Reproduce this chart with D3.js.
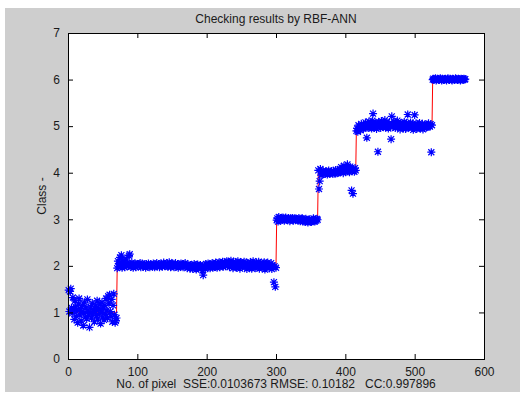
<!DOCTYPE html>
<html>
<head>
<meta charset="utf-8">
<script src="https://cdn.jsdelivr.net/npm/d3@7"></script>
<style>
  html, body { margin: 0; padding: 0; background: #fff; }
  svg { display: block; font-family: "Liberation Sans", Arial, sans-serif; }
  text { white-space: pre; }
</style>
</head>
<body>
<div id="chart"></div>
<script>
// true class of each segment and how many pixels belong to it
const classes = [1, 2, 3, 4, 5, 6];
const classCounts = [70, 230, 60, 55, 110, 48];

// RBF-ANN output per pixel, one array per class segment
const predClass1 = [
  1.48, 1.02, 1.45, 1.51, 1.10, 0.98, 1.32, 1.05, 0.85, 1.25,
  1.12, 0.92, 1.05, 0.78, 1.18, 1.30, 0.95, 1.08, 0.82, 1.02,
  1.15, 0.72, 0.98, 1.22, 0.90, 1.10, 0.86, 1.28, 1.05, 0.95,
  0.68, 1.00, 1.12, 0.88, 1.20, 0.97, 1.06, 0.80, 1.02, 1.14,
  0.93, 1.25, 0.86, 1.08, 0.98, 1.18, 0.76, 1.03, 1.22, 0.90,
  1.10, 0.84, 1.15, 0.96, 1.30, 1.05, 0.88, 1.35, 1.20, 1.38,
  1.02, 0.92, 1.28, 0.80, 1.15, 1.40, 0.95, 0.78, 0.82, 0.88
];
const predClass2 = [
  1.95, 2.10, 1.98, 2.05, 2.18, 2.02, 2.23, 1.96, 2.08, 2.00,
  2.12, 1.97, 2.04, 2.15, 1.99, 2.06, 2.01, 2.22, 2.25, 2.03,
  1.98, 2.07, 2.02, 1.96, 2.04, 2.00, 2.05, 1.97, 2.03, 2.01,
  1.99, 2.04, 2.00, 2.06, 1.97, 2.02, 2.05, 1.98, 2.01, 2.03,
  2.00, 1.96, 2.04, 2.02, 1.99, 2.05, 2.01, 1.97, 2.03, 2.00,
  2.02, 1.98, 2.05, 2.01, 1.97, 2.03, 2.00, 2.06, 1.99, 2.02,
  2.04, 1.97, 2.01, 2.05, 2.00, 1.98, 2.03, 2.07, 2.01, 1.99,
  2.04, 2.00, 2.06, 1.98, 2.02, 2.08, 2.01, 1.97, 2.04, 2.02,
  2.05, 2.00, 1.97, 2.03, 2.06, 1.99, 2.02, 2.04, 1.96, 2.01,
  2.03, 1.98, 2.05, 2.00, 2.02, 1.97, 2.04, 2.01, 2.06, 1.99,
  2.00, 1.95, 2.03, 1.98, 2.01, 1.94, 2.02, 1.97, 2.00, 1.93,
  1.99, 2.04, 1.96, 2.01, 1.92, 1.98, 2.03, 1.95, 2.00, 1.97,
  2.02, 1.94, 1.99, 1.90, 1.80, 1.96, 2.01, 1.93, 2.04, 1.98,
  2.00, 2.05, 1.97, 2.02, 1.95, 2.03, 1.99, 2.06, 1.96, 2.01,
  2.04, 1.98, 2.07, 2.02, 1.96, 2.05, 2.00, 2.08, 1.97, 2.03,
  2.06, 2.01, 2.09, 1.98, 2.04, 2.07, 1.99, 2.05, 2.10, 2.02,
  2.08, 2.03, 1.97, 2.06, 2.11, 2.00, 2.05, 1.95, 2.09, 2.04,
  2.02, 2.07, 1.96, 2.05, 2.10, 2.01, 2.04, 1.94, 2.08, 2.03,
  2.06, 1.99, 2.04, 2.09, 1.97, 2.02, 2.07, 1.93, 2.05, 2.00,
  2.03, 1.96, 2.08, 2.01, 1.94, 2.05, 2.10, 1.98, 2.02, 1.95,
  2.04, 2.07, 1.97, 2.01, 2.09, 1.94, 2.03, 2.06, 1.99, 2.02,
  1.96, 2.05, 2.08, 1.92, 2.01, 2.04, 1.97, 2.07, 2.00, 1.95,
  2.03, 1.98, 2.06, 1.93, 2.01, 1.97, 1.65, 1.99, 1.55, 1.96
];
const predClass3 = [
  2.98, 3.02, 2.95, 3.05, 3.00, 2.97, 3.03, 3.01, 2.99, 3.04,
  3.00, 2.97, 3.02, 3.04, 2.99, 3.01, 2.98, 3.03, 3.00, 2.96,
  3.02, 2.99, 3.01, 3.03, 2.97, 3.00, 3.02, 2.98, 3.01, 2.99,
  3.00, 2.97, 3.03, 2.99, 2.96, 3.01, 2.98, 3.02, 2.95, 3.00,
  2.97, 2.94, 3.01, 2.96, 2.99, 2.93, 2.98, 3.00, 2.95, 2.97,
  2.94, 2.99, 2.96, 3.02, 2.98, 2.95, 3.00, 2.97, 3.01, 2.99
];
const predClass4 = [
  4.05, 3.65, 3.82, 4.08, 3.95, 4.02, 3.98, 4.04, 3.99, 4.01,
  3.97, 4.03, 4.00, 3.96, 4.02, 4.05, 3.98, 4.01, 3.99, 4.03,
  4.00, 3.97, 4.04, 4.01, 3.98, 4.06, 4.02, 3.99, 4.05, 4.00,
  4.03, 4.08, 4.01, 4.12, 4.04, 4.10, 3.99, 4.15, 4.06, 4.02,
  4.11, 4.05, 4.18, 4.03, 4.09, 4.01, 4.13, 4.06, 3.62, 4.04,
  3.55, 4.08, 4.02, 4.10, 4.05
];
const predClass5 = [
  4.90, 4.95, 4.88, 5.02, 4.93, 4.98, 4.91, 5.05, 4.96, 5.00,
  4.94, 5.03, 4.97, 5.08, 4.99, 4.75, 5.04, 4.96, 5.10, 5.01,
  4.98, 5.06, 4.95, 5.12, 5.27, 5.02, 4.97, 5.08, 5.00, 4.94,
  5.05, 4.45, 5.09, 4.99, 5.03, 4.96, 5.11, 5.02, 4.98, 5.07,
  5.00, 5.13, 4.97, 5.04, 5.09, 5.01, 4.95, 5.06, 5.02, 4.99,
  4.72, 5.21, 5.05, 4.98, 5.10, 5.03, 4.96, 5.08, 5.00, 5.12,
  4.97, 5.04, 5.01, 4.93, 5.07, 5.02, 4.98, 5.05, 4.95, 5.09,
  5.00, 4.94, 5.06, 5.03, 5.25, 4.97, 5.04, 4.99, 5.08, 5.01,
  4.96, 5.05, 4.92, 5.02, 5.24, 4.98, 5.06, 4.94, 5.03, 5.00,
  4.97, 5.07, 4.95, 5.02, 4.99, 5.05, 4.93, 5.01, 4.96, 5.04,
  5.00, 4.97, 5.03, 4.98, 5.06, 5.01, 4.99, 5.04, 4.44, 5.02
];
const predClass6 = [
  6.00, 6.02, 5.99, 6.01, 6.03, 5.98, 6.00, 6.02, 6.01, 5.99,
  6.00, 6.03, 6.01, 5.98, 6.02, 6.00, 5.99, 6.01, 6.02, 6.00,
  5.98, 6.01, 6.03, 6.00, 5.99, 6.02, 6.01, 6.00, 5.98, 6.02,
  6.01, 5.99, 6.00, 6.03, 6.01, 6.00, 5.99, 6.02, 6.00, 6.01,
  5.98, 6.02, 6.00, 6.01, 5.99, 6.02, 6.00, 6.01
];

const xTicks = [0, 100, 200, 300, 400, 500, 600];
const yTicks = [0, 1, 2, 3, 4, 5, 6, 7];

const titleText = 'Checking results by RBF-ANN';
const xLabelText = 'No. of pixel  SSE:0.0103673 RMSE: 0.10182   CC:0.997896';
const yLabelText = 'Class -';

(function() {
  const width = 524;
  const height = 396;
  const margin = { top: 33, right: 40, bottom: 37, left: 68 };
  const innerWidth = 484 - margin.left;
  const innerHeight = 359 - margin.top;

  // pixel number -> target and prediction
  const target = [];
  classes.forEach(function(c, i) {
    for (let k = 0; k < classCounts[i]; k++) target.push(c);
  });
  const predicted = predClass1.concat(predClass2, predClass3, predClass4, predClass5, predClass6);
  const points = predicted.map(function(v, i) {
    return { n: i + 1, pred: v, target: target[i] };
  });

  const svg = d3.select('#chart').append('svg')
    .attr('width', width)
    .attr('height', height);

  // figure background
  svg.append('rect')
    .attr('x', 5).attr('y', 8)
    .attr('width', 515).attr('height', 384)
    .attr('fill', '#cecece');

  const g = svg.append('g')
    .attr('transform', 'translate(' + margin.left + ',' + margin.top + ')');

  const x = d3.scaleLinear().domain([0, 600]).range([0, innerWidth]);
  const y = d3.scaleLinear().domain([0, 7]).range([innerHeight, 0]);

  g.append('rect')
    .attr('width', innerWidth)
    .attr('height', innerHeight)
    .attr('fill', '#fff');

  // target step line
  const line = d3.line()
    .x(function(d) { return x(d.n); })
    .y(function(d) { return y(d.target); });

  g.append('path')
    .datum(points)
    .attr('d', line)
    .attr('fill', 'none')
    .attr('stroke', '#ff0000')
    .attr('stroke-width', 1);

  // asterisk markers
  const a = 4, b = 3;
  const star = 'M' + (-a) + ',0H' + a + 'M0,' + (-a) + 'V' + a +
    'M' + (-b) + ',' + (-b) + 'L' + b + ',' + b +
    'M' + (-b) + ',' + b + 'L' + b + ',' + (-b);

  g.selectAll('.pt')
    .data(points)
    .enter()
    .append('path')
      .attr('class', 'pt')
      .attr('d', star)
      .attr('transform', function(d) { return 'translate(' + x(d.n) + ',' + y(d.pred) + ')'; })
      .attr('fill', 'none')
      .attr('stroke', '#0000ff')
      .attr('stroke-width', 1.2);

  // axes, ticks inside on all sides
  function styleAxis(sel) {
    sel.select('.domain').remove();
    sel.selectAll('.tick line').attr('stroke', '#000');
    sel.selectAll('.tick text')
      .attr('fill', '#1a1a1a')
      .style('font-size', '12px')
      .style('font-family', '"Liberation Sans", Arial, sans-serif');
  }

  g.append('g')
    .attr('transform', 'translate(0,' + innerHeight + ')')
    .call(d3.axisBottom(x).tickValues(xTicks).tickSize(-5).tickPadding(8).tickFormat(d3.format('d')))
    .call(styleAxis);

  g.append('g')
    .call(d3.axisTop(x).tickValues(xTicks).tickSize(-5).tickFormat(''))
    .call(styleAxis);

  g.append('g')
    .call(d3.axisLeft(y).tickValues(yTicks).tickSize(-5).tickPadding(8).tickFormat(d3.format('d')))
    .call(styleAxis);

  g.append('g')
    .attr('transform', 'translate(' + innerWidth + ',0)')
    .call(d3.axisRight(y).tickValues(yTicks).tickSize(-5).tickFormat(''))
    .call(styleAxis);

  g.append('rect')
    .attr('width', innerWidth)
    .attr('height', innerHeight)
    .attr('fill', 'none')
    .attr('stroke', '#000')
    .attr('stroke-width', 1)
    .attr('shape-rendering', 'crispEdges');

  // texts
  svg.append('text')
    .attr('x', margin.left + innerWidth / 2)
    .attr('y', 23)
    .attr('text-anchor', 'middle')
    .style('font-size', '12px')
    .attr('fill', '#1a1a1a')
    .text(titleText);

  svg.append('text')
    .attr('x', margin.left + innerWidth / 2)
    .attr('y', 388)
    .attr('text-anchor', 'middle')
    .style('font-size', '12px')
    .attr('fill', '#1a1a1a')
    .text(xLabelText);

  svg.append('text')
    .attr('transform', 'translate(46,' + (margin.top + innerHeight / 2) + ') rotate(-90)')
    .attr('text-anchor', 'middle')
    .style('font-size', '12px')
    .attr('fill', '#1a1a1a')
    .text(yLabelText);
})();
</script>
</body>
</html>
